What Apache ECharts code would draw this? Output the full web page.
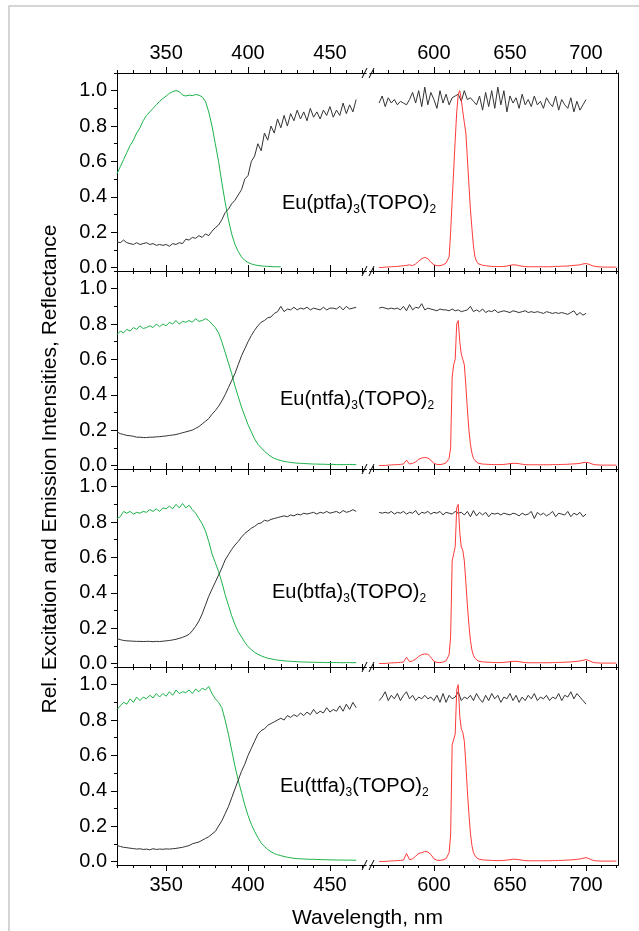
<!DOCTYPE html>
<html>
<head>
<meta charset="utf-8">
<script src="https://cdn.jsdelivr.net/npm/echarts@6/dist/echarts.min.js"></script>
<style>
html, body { margin: 0; padding: 0; background: #fff; }
#chart { width: 639px; height: 931px; }
</style>
</head>
<body>
<div id="chart"></div>
<script>
function seq(a, b, step) {
	var r = [];
	for (var v = a; v <= b + 1e-9; v += step) r.push(Math.round(v * 1000) / 1000);
	return r;
}

// wavelength grids (nm)
var leftWl = seq(320, 466, 2);
var rightWl = seq(564, 700, 2);
var emWl = seq(564, 604, 2).concat(seq(605, 630, 1), seq(632, 720, 2));

var compounds = ['ptfa', 'ntfa', 'btfa', 'ttfa'];
var leftTicks = [350, 400, 450];
var rightTicks = [600, 650, 700];
var leftMinor = seq(320, 470, 10);
var rightMinor = seq(560, 720, 10);
var yTicks = [0, 0.2, 0.4, 0.6, 0.8, 1.0];
var yMinor = [0.1, 0.3, 0.5, 0.7, 0.9, 1.1];

// excitation (green), 320..466 step 2
var exPtfa = [
	0.53, 0.57, 0.61, 0.65, 0.69, 0.72, 0.76, 0.79, 0.83, 0.86,
	0.88, 0.90, 0.92, 0.94, 0.955, 0.97, 0.985, 0.995, 1.0, 0.995,
	0.975, 0.97, 0.975, 0.972, 0.978, 0.975, 0.965, 0.94, 0.88, 0.80,
	0.70, 0.60, 0.48, 0.37, 0.27, 0.19, 0.13, 0.09, 0.06, 0.04,
	0.028, 0.02, 0.015, 0.011, 0.009, 0.007, 0.006, 0.005, 0.004, 0.004,
	0.004
];
var exNtfa = [
	0.74, 0.76, 0.75, 0.77, 0.76, 0.78, 0.77, 0.79, 0.775, 0.78,
	0.79, 0.78, 0.80, 0.785, 0.80, 0.79, 0.81, 0.80, 0.82, 0.80,
	0.815, 0.81, 0.82, 0.81, 0.83, 0.815, 0.82, 0.83, 0.82, 0.80,
	0.78, 0.75, 0.70, 0.64, 0.58, 0.52, 0.45, 0.39, 0.33, 0.28,
	0.23, 0.19, 0.15, 0.12, 0.10, 0.08, 0.065, 0.05, 0.04, 0.033,
	0.028, 0.023, 0.02, 0.017, 0.015, 0.013, 0.012, 0.011, 0.01, 0.009,
	0.008, 0.008, 0.007, 0.007, 0.006, 0.006, 0.006, 0.005, 0.005, 0.005,
	0.005, 0.006, 0.005, 0.005
];
var exBtfa = [
	0.82, 0.83, 0.86, 0.85, 0.86, 0.845, 0.855, 0.85, 0.86, 0.855,
	0.87, 0.86, 0.875, 0.86, 0.88, 0.875, 0.89, 0.875, 0.9, 0.88,
	0.905, 0.88, 0.895, 0.87, 0.85, 0.82, 0.79, 0.75, 0.69, 0.62,
	0.57, 0.52, 0.46, 0.39, 0.33, 0.27, 0.22, 0.18, 0.15, 0.12,
	0.095, 0.078, 0.063, 0.052, 0.043, 0.036, 0.03, 0.026, 0.022, 0.019,
	0.017, 0.015, 0.013, 0.012, 0.011, 0.01, 0.009, 0.008, 0.008, 0.007,
	0.007, 0.006, 0.006, 0.006, 0.005, 0.005, 0.005, 0.005, 0.005, 0.004,
	0.005, 0.005, 0.004, 0.005
];
var exTtfa = [
	0.86, 0.88, 0.9, 0.89, 0.92, 0.9, 0.93, 0.91, 0.93, 0.92,
	0.94, 0.925, 0.95, 0.93, 0.95, 0.935, 0.96, 0.94, 0.97, 0.95,
	0.96, 0.955, 0.97, 0.95, 0.975, 0.96, 0.98, 0.97, 0.99, 0.95,
	0.92, 0.9, 0.87, 0.8, 0.72, 0.63, 0.54, 0.46, 0.39, 0.32,
	0.26, 0.21, 0.17, 0.135, 0.105, 0.085, 0.068, 0.055, 0.045, 0.038,
	0.033, 0.028, 0.024, 0.021, 0.018, 0.016, 0.015, 0.014, 0.013, 0.012,
	0.012, 0.011, 0.011, 0.01, 0.01, 0.009, 0.009, 0.008, 0.008, 0.008,
	0.007, 0.008, 0.007, 0.007
];

// reflectance (black), 320..466 step 2
var reflLeftPtfa = [
	0.145, 0.14, 0.155, 0.14, 0.135, 0.13, 0.14, 0.13, 0.135, 0.14,
	0.13, 0.135, 0.125, 0.13, 0.125, 0.13, 0.12, 0.135, 0.13, 0.14,
	0.135, 0.16, 0.155, 0.17, 0.165, 0.18, 0.17, 0.19, 0.18, 0.205,
	0.225, 0.24, 0.27, 0.31, 0.33, 0.36, 0.38, 0.41, 0.44, 0.50,
	0.52, 0.60, 0.63, 0.70, 0.66, 0.76, 0.72, 0.80, 0.76, 0.84,
	0.79, 0.86, 0.80, 0.87, 0.83, 0.89, 0.84, 0.88, 0.83, 0.90,
	0.85, 0.88, 0.84, 0.89, 0.86, 0.91, 0.85, 0.89, 0.86, 0.93,
	0.87, 0.92, 0.88, 0.95
];
var reflLeftNtfa = [
	0.19, 0.18, 0.175, 0.17, 0.168, 0.165, 0.16, 0.16, 0.158, 0.158,
	0.16, 0.16, 0.162, 0.163, 0.165, 0.167, 0.17, 0.172, 0.175, 0.18,
	0.185, 0.19, 0.195, 0.2, 0.21, 0.22, 0.235, 0.25, 0.265, 0.29,
	0.31, 0.335, 0.365, 0.4, 0.44, 0.48, 0.52, 0.57, 0.62, 0.66,
	0.70, 0.735, 0.765, 0.79, 0.81, 0.82, 0.835, 0.84, 0.86, 0.87,
	0.9, 0.87, 0.885, 0.88, 0.895, 0.88, 0.89, 0.885, 0.895, 0.88,
	0.89, 0.885, 0.88, 0.895, 0.88, 0.89, 0.89, 0.885, 0.9, 0.88,
	0.9, 0.885, 0.89, 0.895
];
var reflLeftBtfa = [
	0.14, 0.135, 0.13, 0.128, 0.127, 0.126, 0.125, 0.125, 0.124, 0.125,
	0.125, 0.123, 0.125, 0.124, 0.126, 0.128, 0.13, 0.133, 0.137, 0.142,
	0.148, 0.155, 0.165, 0.185, 0.21, 0.24, 0.28, 0.33, 0.38, 0.42,
	0.46, 0.5, 0.54, 0.585, 0.615, 0.645, 0.67, 0.69, 0.715, 0.735,
	0.75, 0.765, 0.775, 0.79, 0.795, 0.81, 0.805, 0.815, 0.82, 0.825,
	0.83, 0.835, 0.83, 0.84, 0.835, 0.845, 0.84, 0.85, 0.845, 0.85,
	0.855, 0.845, 0.855, 0.85, 0.86, 0.85, 0.855, 0.86, 0.85, 0.865,
	0.855, 0.86, 0.87, 0.86
];
var reflLeftTtfa = [
	0.09, 0.085, 0.08, 0.078, 0.075, 0.073, 0.07, 0.072, 0.068, 0.07,
	0.066, 0.072, 0.068, 0.07, 0.069, 0.071, 0.07, 0.072, 0.074, 0.077,
	0.08, 0.085, 0.09, 0.1, 0.105, 0.11, 0.12, 0.13, 0.14, 0.155,
	0.17, 0.2, 0.23, 0.27, 0.31, 0.36, 0.41, 0.46, 0.51, 0.55,
	0.6, 0.64, 0.68, 0.72, 0.74, 0.75, 0.77, 0.78, 0.79, 0.8,
	0.81, 0.8, 0.825, 0.815, 0.83, 0.82, 0.84, 0.825, 0.845, 0.83,
	0.86, 0.835, 0.85, 0.84, 0.87, 0.845, 0.86, 0.85, 0.88, 0.85,
	0.89, 0.86, 0.9, 0.87
];

// reflectance (black), 564..700 step 2
var reflRightPtfa = [
	0.93, 0.97, 0.91, 0.96, 0.93, 0.95, 0.92, 0.94, 0.93, 0.92,
	0.95, 0.99, 0.93, 1.0, 0.91, 1.02, 0.92, 0.99, 0.95, 0.90,
	1.0, 0.93, 0.98, 0.92, 0.96, 0.97, 0.98, 0.94, 1.0, 0.95,
	0.96, 0.94, 0.92, 0.97, 0.89, 0.99, 0.91, 1.0, 0.90, 1.02,
	0.92, 1.0, 0.88, 0.97, 0.93, 0.96, 0.90, 0.98, 0.92, 0.95,
	0.91, 0.97, 0.92, 0.94, 0.90, 0.96, 0.93, 0.91, 0.97, 0.89,
	0.95, 0.92, 0.90, 0.96, 0.88, 0.94, 0.89, 0.92, 0.95
];
var reflRightNtfa = [
	0.89, 0.895, 0.89, 0.885, 0.89, 0.885, 0.89, 0.88, 0.9, 0.875,
	0.91, 0.88, 0.895, 0.89, 0.915, 0.88, 0.89, 0.885, 0.88, 0.875,
	0.885, 0.88, 0.88, 0.875, 0.885, 0.875, 0.88, 0.87, 0.875, 0.88,
	0.9, 0.87, 0.88, 0.87, 0.885, 0.865, 0.875, 0.87, 0.88, 0.865,
	0.87, 0.875, 0.87, 0.865, 0.875, 0.87, 0.865, 0.87, 0.875, 0.865,
	0.87, 0.865, 0.87, 0.865, 0.86, 0.87, 0.865, 0.86, 0.865, 0.86,
	0.865, 0.86, 0.855, 0.865, 0.875, 0.85, 0.865, 0.85, 0.86
];
var reflRightBtfa = [
	0.855, 0.85, 0.855, 0.85, 0.86, 0.845, 0.855, 0.85, 0.86, 0.845,
	0.855, 0.85, 0.865, 0.84, 0.855, 0.85, 0.86, 0.845, 0.855, 0.85,
	0.86, 0.84, 0.855, 0.85, 0.845, 0.86, 0.85, 0.855, 0.84, 0.86,
	0.83, 0.865, 0.835, 0.855, 0.84, 0.855, 0.83, 0.85, 0.845, 0.85,
	0.84, 0.85, 0.845, 0.84, 0.85, 0.845, 0.835, 0.85, 0.84, 0.845,
	0.86, 0.82, 0.855, 0.84, 0.85, 0.835, 0.845, 0.86, 0.83, 0.85,
	0.845, 0.84, 0.86, 0.83, 0.85, 0.84, 0.855, 0.83, 0.845
];
var reflRightTtfa = [
	0.91, 0.93, 0.96, 0.91, 0.94, 0.92, 0.95, 0.91, 0.94, 0.96,
	0.92, 0.94, 0.91, 0.93, 0.92, 0.94, 0.92, 0.93, 0.91, 0.94,
	0.9, 0.95, 0.9, 0.94, 0.92, 0.93, 0.96, 0.91, 0.93, 0.92,
	0.94, 0.91, 0.95, 0.92, 0.9, 0.94, 0.91, 0.95, 0.92, 0.94,
	0.9, 0.93, 0.92, 0.95, 0.91, 0.94, 0.9, 0.93, 0.91, 0.94,
	0.92, 0.95, 0.91, 0.93, 0.92, 0.94, 0.91, 0.93, 0.92, 0.95,
	0.91, 0.94, 0.93, 0.96, 0.92, 0.95, 0.93, 0.91, 0.89
];

// emission (red): 564..604 step 2, 605..630 step 1, 632..720 step 2
var emPtfa = [
	0.0, 0.0, 0.002, 0.003, 0.004, 0.005, 0.006, 0.008, 0.01, 0.012,
	0.015, 0.01, 0.02, 0.035, 0.05, 0.057, 0.05, 0.03, 0.015, 0.01, 0.01,
	0.012, 0.015, 0.02, 0.025, 0.03, 0.06, 0.2, 0.38, 0.55, 0.72,
	0.88, 0.98, 1.0, 0.95, 0.88, 0.82, 0.76, 0.62, 0.47, 0.33,
	0.22, 0.12, 0.06, 0.035, 0.022, 0.016,
	0.012, 0.01, 0.008, 0.006, 0.005, 0.005, 0.005, 0.006, 0.008, 0.012,
	0.015, 0.014, 0.01, 0.007, 0.005, 0.004, 0.004, 0.004, 0.004, 0.004,
	0.004, 0.004, 0.004, 0.005, 0.006, 0.006, 0.007, 0.008, 0.008, 0.01,
	0.012, 0.013, 0.015, 0.02, 0.022, 0.018, 0.01, 0.006, 0.004, 0.003,
	0.002, 0.002, 0.002, 0.002, 0.002
];
var emNtfa = [
	0.0, 0.0, 0.0, 0.002, 0.003, 0.004, 0.005, 0.006, 0.008, 0.03,
	0.008, 0.012, 0.02, 0.035, 0.042, 0.045, 0.042, 0.03, 0.012, 0.006, 0.005,
	0.006, 0.008, 0.012, 0.015, 0.02, 0.04, 0.1, 0.5, 0.57, 0.6,
	0.8, 0.82, 0.7, 0.63, 0.6, 0.57, 0.45, 0.32, 0.2, 0.12,
	0.07, 0.04, 0.028, 0.018, 0.013, 0.01,
	0.008, 0.007, 0.006, 0.005, 0.005, 0.005, 0.005, 0.006, 0.008, 0.01,
	0.012, 0.012, 0.01, 0.007, 0.005, 0.004, 0.004, 0.004, 0.004, 0.004,
	0.004, 0.004, 0.004, 0.005, 0.005, 0.005, 0.006, 0.006, 0.007, 0.008,
	0.009, 0.01, 0.012, 0.016, 0.018, 0.015, 0.008, 0.004, 0.003, 0.002,
	0.002, 0.002, 0.002, 0.002, 0.002
];
var emBtfa = [
	0.0, 0.0, 0.0, 0.002, 0.003, 0.004, 0.005, 0.006, 0.008, 0.035,
	0.01, 0.015, 0.025, 0.04, 0.05, 0.054, 0.052, 0.035, 0.012, 0.006, 0.005,
	0.006, 0.008, 0.012, 0.015, 0.02, 0.05, 0.15, 0.58, 0.62, 0.66,
	0.88, 0.9, 0.74, 0.66, 0.64, 0.58, 0.46, 0.33, 0.22, 0.13,
	0.075, 0.045, 0.03, 0.02, 0.014, 0.011,
	0.009, 0.008, 0.007, 0.006, 0.005, 0.005, 0.005, 0.006, 0.008, 0.01,
	0.012, 0.012, 0.01, 0.007, 0.005, 0.004, 0.004, 0.004, 0.004, 0.004,
	0.004, 0.004, 0.004, 0.005, 0.005, 0.006, 0.006, 0.007, 0.008, 0.009,
	0.01, 0.012, 0.014, 0.018, 0.022, 0.016, 0.008, 0.004, 0.003, 0.002,
	0.002, 0.002, 0.002, 0.002, 0.002
];
var emTtfa = [
	0.0, 0.0, 0.0, 0.002, 0.003, 0.004, 0.005, 0.006, 0.008, 0.045,
	0.01, 0.015, 0.03, 0.045, 0.05, 0.056, 0.054, 0.04, 0.015, 0.007, 0.006,
	0.007, 0.009, 0.012, 0.016, 0.022, 0.05, 0.15, 0.66, 0.67, 0.72,
	0.97, 1.0, 0.82, 0.75, 0.73, 0.68, 0.55, 0.4, 0.27, 0.16,
	0.09, 0.05, 0.032, 0.022, 0.015, 0.012,
	0.009, 0.008, 0.007, 0.006, 0.005, 0.005, 0.005, 0.006, 0.008, 0.01,
	0.013, 0.012, 0.01, 0.007, 0.005, 0.004, 0.004, 0.004, 0.004, 0.004,
	0.004, 0.004, 0.004, 0.005, 0.005, 0.006, 0.006, 0.007, 0.008, 0.009,
	0.01, 0.012, 0.014, 0.018, 0.022, 0.016, 0.008, 0.004, 0.003, 0.002,
	0.002, 0.002, 0.002, 0.002, 0.002
];

var excitation = [exPtfa, exNtfa, exBtfa, exTtfa];
var reflLeft = [reflLeftPtfa, reflLeftNtfa, reflLeftBtfa, reflLeftTtfa];
var reflRight = [reflRightPtfa, reflRightNtfa, reflRightBtfa, reflRightTtfa];
var emission = [emPtfa, emNtfa, emBtfa, emTtfa];

// layout
var FONT = "'Liberation Sans', Arial, sans-serif";
var GREEN = '#1db34a', RED = '#ff3a3a', BLACK = '#333333';
var PLOT_L = 117, BREAK_L = 366, BREAK_R = 370, PLOT_R = 618;
var PLOT_T = 73, PANEL_H = 198;
var X_LEFT = [320, 472], X_RIGHT = [558, 721];
var Y_MIN = -0.02, Y_MAX = 1.1;
var labelPos = [[282, 130], [280, 128], [272, 123], [280, 119]];

function pairs(xs, ys) {
	var out = [];
	for (var i = 0; i < ys.length; i++) out.push([xs[i], ys[i]]);
	return out;
}

function xAxis(g, pos, range, ticks, len, labels) {
	return {
		type: 'value', gridIndex: g, position: pos, min: range[0], max: range[1],
		axisLine: { show: true, onZero: false, lineStyle: { color: '#000', width: 1 } },
		axisTick: { show: true, length: len, customValues: ticks, lineStyle: { color: '#000', width: 1 } },
		axisLabel: { show: labels, customValues: ticks, margin: 10, color: '#000', fontSize: 20, fontFamily: FONT },
		splitLine: { show: false }
	};
}

function yAxis(g, ticks, len, labels) {
	return {
		type: 'value', gridIndex: g, position: 'left', min: Y_MIN, max: Y_MAX,
		axisLine: { show: true, onZero: false, lineStyle: { color: '#000', width: 1 } },
		axisTick: { show: true, length: len, customValues: ticks, lineStyle: { color: '#000', width: 1 } },
		axisLabel: {
			show: labels, customValues: yTicks, margin: 10, color: '#000', fontSize: 20, fontFamily: FONT,
			formatter: function(v) { return v.toFixed(1); }
		},
		splitLine: { show: false }
	};
}

function lineSeries(xi, yi, data, color) {
	return {
		type: 'line', xAxisIndex: xi, yAxisIndex: yi, data: data,
		showSymbol: false, symbol: 'none', silent: true, animation: false,
		lineStyle: { color: color, width: 1 }
	};
}

var grids = [], xAxes = [], yAxes = [], series = [], graphics = [];

for (var p = 0; p < 4; p++)
{
	var panelTop = PLOT_T + p * PANEL_H;

	// left part of the broken axis
	var g = grids.length;
	grids.push({ left: PLOT_L, top: panelTop, width: BREAK_L - PLOT_L, height: PANEL_H });
	var xi = xAxes.length;
	xAxes.push(xAxis(g, 'bottom', X_LEFT, leftTicks, 6, p === 3));
	xAxes.push(xAxis(g, 'bottom', X_LEFT, leftMinor, 3, false));
	xAxes.push(xAxis(g, 'top', X_LEFT, leftTicks, 6, p === 0));
	xAxes.push(xAxis(g, 'top', X_LEFT, leftMinor, 3, false));
	var yi = yAxes.length;
	yAxes.push(yAxis(g, yTicks, 6, true));
	yAxes.push(yAxis(g, yMinor, 3, false));
	series.push(lineSeries(xi, yi, pairs(leftWl, excitation[p]), GREEN));
	series.push(lineSeries(xi, yi, pairs(leftWl, reflLeft[p]), BLACK));

	// right part
	g = grids.length;
	grids.push({ left: BREAK_R, top: panelTop, width: PLOT_R - BREAK_R, height: PANEL_H });
	xi = xAxes.length;
	xAxes.push(xAxis(g, 'bottom', X_RIGHT, rightTicks, 6, p === 3));
	xAxes.push(xAxis(g, 'bottom', X_RIGHT, rightMinor, 3, false));
	xAxes.push(xAxis(g, 'top', X_RIGHT, rightTicks, 6, p === 0));
	xAxes.push(xAxis(g, 'top', X_RIGHT, rightMinor, 3, false));
	yi = yAxes.length;
	yAxes.push({
		type: 'value', gridIndex: g, position: 'right', min: Y_MIN, max: Y_MAX,
		axisLine: { show: true, onZero: false, lineStyle: { color: '#000', width: 1 } },
		axisTick: { show: false }, axisLabel: { show: false }, splitLine: { show: false }
	});
	series.push(lineSeries(xi, yi, pairs(rightWl, reflRight[p]), BLACK));
	series.push(lineSeries(xi, yi, pairs(emWl, emission[p]), RED));

	// compound name
	graphics.push({
		type: 'text', x: labelPos[p][0], y: panelTop + labelPos[p][1],
		style: {
			text: '{n|Eu(' + compounds[p] + ')}{s|3}{n|(TOPO)}{s|2}',
			fill: '#000', align: 'left', verticalAlign: 'middle',
			rich: {
				n: { fontSize: 20, fontFamily: FONT, fill: '#000', lineHeight: 26, verticalAlign: 'middle' },
				s: { fontSize: 12, fontFamily: FONT, fill: '#000', lineHeight: 12, verticalAlign: 'bottom' }
			}
		}
	});
}

// axis break marks
for (var b = 0; b <= 4; b++)
{
	var yb = PLOT_T + b * PANEL_H;
	graphics.push({ type: 'line', shape: { x1: BREAK_L - 4, y1: yb + 5, x2: BREAK_L + 1, y2: yb - 5 }, style: { stroke: '#000', lineWidth: 1 } });
	graphics.push({ type: 'line', shape: { x1: BREAK_R - 1, y1: yb + 5, x2: BREAK_R + 4, y2: yb - 5 }, style: { stroke: '#000', lineWidth: 1 } });
}

graphics.push({
	type: 'text', x: (PLOT_L + PLOT_R) / 2, y: 918,
	style: { text: 'Wavelength, nm', fontSize: 21, fontFamily: FONT, fill: '#000', align: 'center', verticalAlign: 'middle' }
});
graphics.push({
	type: 'text', x: 50, y: PLOT_T + 2 * PANEL_H, rotation: Math.PI / 2,
	style: { text: 'Rel. Excitation and Emission Intensities, Reflectance', fontSize: 21, fontFamily: FONT, fill: '#000', align: 'center', verticalAlign: 'middle' }
});
graphics.push({
	type: 'polyline', shape: { points: [[9, 931], [9, 6], [639, 6]] },
	style: { stroke: '#c8c8c8', lineWidth: 1.5, fill: null }
});

var chart = echarts.init(document.getElementById('chart'));
chart.setOption({
	animation: false,
	backgroundColor: '#fff',
	grid: grids,
	xAxis: xAxes,
	yAxis: yAxes,
	series: series,
	graphic: graphics
});
</script>
</body>
</html>
